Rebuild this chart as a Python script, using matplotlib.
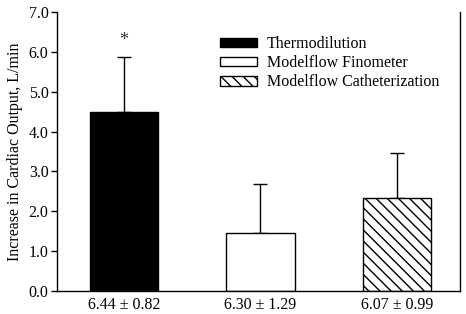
import numpy as np
import matplotlib
matplotlib.use('Agg')
import matplotlib.pyplot as plt

plt.rcParams['font.family'] = ['Liberation Serif', 'DejaVu Serif']
plt.rcParams['hatch.linewidth'] = 1.0

methods = ['Thermodilution', 'Modelflow Finometer', 'Modelflow Catheterization']
means = [4.48, 1.45, 2.34]
sds = [1.40, 1.24, 1.11]
baseline = ['6.44 \u00b1 0.82', '6.30 \u00b1 1.29', '6.07 \u00b1 0.99']
faces = ['black', 'white', 'white']
hatches = ['', '', '\\\\\\']

fig = plt.figure(figsize=(4.66, 3.14), dpi=100)
ax = fig.add_axes([0.122, 0.073, 0.865, 0.889])

x = np.arange(len(means))
for i in range(len(means)):
    ax.bar(x[i], means[i], width=0.5, color=faces[i], edgecolor='black',
           hatch=hatches[i], linewidth=1.0, label=methods[i], zorder=2)
ax.errorbar(x, means, yerr=[np.zeros(len(sds)), sds], fmt='none',
            ecolor='black', elinewidth=1.0, capsize=5, capthick=1.0, zorder=1)

# significance marker
ax.text(x[0], means[0] + sds[0] + 0.2, '*', ha='center', va='bottom',
        fontsize=13, color='#333333')

ax.set_xlim(-0.49, 2.46)
ax.set_ylim(0, 7)
ax.set_yticks(np.arange(0, 7.1, 1.0))
ax.set_yticklabels(['%.1f' % v for v in np.arange(0, 7.1, 1.0)], fontsize=11.5)
ax.set_xticks(x)
ax.set_xticklabels(baseline, fontsize=11.5)
ax.tick_params(axis='x', length=0, pad=4)
ax.tick_params(axis='y', direction='out', length=4, width=1, pad=2)
ax.set_ylabel('Increase in Cardiac Output, L/min', fontsize=11.5, labelpad=4)

ax.spines['top'].set_visible(False)
for s in ['left', 'right', 'bottom']:
    ax.spines[s].set_linewidth(1.0)

ax.legend(loc='upper left', bbox_to_anchor=(0.37, 0.965), frameon=False,
          fontsize=11.5, handlelength=2.3, handleheight=0.55, labelspacing=0.2,
          handletextpad=0.6)

fig.savefig('out.png', dpi=100)
